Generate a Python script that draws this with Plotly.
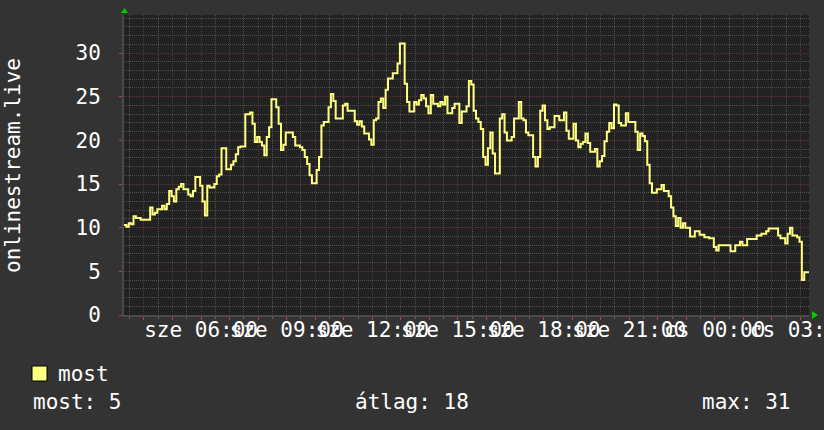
import pandas as pd
import plotly.graph_objects as go

# ---------------- data ----------------
start_time = "2024-01-03 03:18"          # szerda (Wednesday)
step_minutes = 5
values = [
    10.3, 10.1, 10.5, 10.4, 11.3, 11.1, 11.1, 10.9, 10.9, 10.9,
    10.9, 12.3, 11.5, 11.7, 12.1, 12.1, 12.5, 12.1, 12.7, 14.2,
    13.6, 13.0, 14.4, 14.7, 15.0, 14.4, 14.4, 13.8, 13.6, 14.2,
    15.8, 15.8, 14.8, 13.0, 11.4, 14.8, 14.6, 14.6, 15.0, 15.9,
    16.1, 19.1, 19.1, 16.7, 16.7, 17.2, 17.6, 18.4, 19.2, 19.3,
    19.3, 23.0, 23.0, 23.2, 21.9, 19.8, 20.4, 19.8, 19.4, 18.3,
    20.4, 21.5, 24.7, 24.7, 23.8, 21.9, 18.9, 19.5, 20.9, 20.9,
    20.9, 20.4, 19.4, 19.4, 19.2, 18.9, 18.1, 17.3, 16.0, 15.1,
    15.1, 16.6, 18.1, 21.7, 22.1, 22.1, 23.8, 25.3, 24.5, 22.5,
    22.5, 22.5, 24.0, 24.2, 23.4, 23.4, 23.4, 22.2, 21.8, 22.2,
    21.6, 20.8, 20.8, 20.1, 19.5, 22.3, 22.5, 24.4, 24.8, 23.7,
    25.8, 27.1, 27.1, 27.7, 27.7, 28.8, 31.1, 31.1, 26.5, 24.4,
    23.3, 23.3, 24.4, 24.1, 24.6, 25.2, 24.8, 23.9, 23.1, 25.2,
    24.2, 24.2, 23.9, 24.4, 24.1, 25.0, 23.1, 23.1, 23.7, 24.2,
    24.2, 22.0, 23.3, 23.3, 23.9, 26.8, 26.4, 23.4, 22.5, 22.1,
    21.3, 18.1, 17.2, 19.1, 20.9, 18.5, 16.2, 16.2, 22.5, 23.0,
    20.9, 20.0, 20.0, 20.4, 22.5, 22.5, 24.4, 22.5, 22.3, 20.9,
    20.6, 20.6, 18.1, 17.0, 18.1, 23.4, 24.0, 22.3, 21.3, 21.5,
    21.5, 22.8, 22.8, 22.3, 22.3, 23.2, 21.1, 20.2, 20.2, 21.9,
    20.0, 19.2, 19.6, 19.8, 20.8, 19.7, 18.7, 18.7, 19.0, 17.0,
    17.6, 18.2, 19.9, 21.0, 22.0, 21.4, 24.1, 24.0, 22.0, 21.7,
    21.7, 23.1, 22.1, 22.1, 22.1, 21.0, 18.9, 20.8, 20.5, 19.9,
    17.2, 15.1, 14.0, 14.0, 14.4, 14.4, 14.9, 14.2, 14.2, 13.6,
    12.3, 11.3, 10.2, 11.1, 10.0, 10.5, 10.0, 10.0, 9.0, 9.0,
    9.6, 9.6, 9.2, 9.2, 8.9, 8.9, 8.8, 8.8, 7.8, 7.4,
    8.0, 8.0, 8.0, 8.0, 8.0, 7.3, 7.3, 8.0, 8.0, 8.4,
    8.0, 8.0, 8.7, 8.7, 8.7, 8.7, 9.1, 9.1, 9.3, 9.3,
    9.6, 9.9, 9.9, 9.9, 9.9, 9.1, 8.8, 8.8, 8.2, 9.3,
    10.0, 9.1, 9.1, 8.9, 8.4, 4.0, 4.9, 4.9,
]
series_name = "most"
y_axis_title = "onlinestream.live"
y_tick_values = [0, 5, 10, 15, 20, 25, 30]
x_label_times = ["2024-01-03 06:00", "2024-01-03 09:00", "2024-01-03 12:00",
                 "2024-01-03 15:00", "2024-01-03 18:00", "2024-01-03 21:00",
                 "2024-01-04 00:00", "2024-01-04 03:00"]
x_label_texts = ["sze 06:00", "sze 09:00", "sze 12:00", "sze 15:00",
                 "sze 18:00", "sze 21:00", "cs 00:00", "cs 03:00"]
stat_labels = ["most", "átlag", "max"]
stat_values = [5, 18, 31]

# ---------------- style ----------------
FONT = "DejaVu Sans Mono"
FS = 21
BACK = "#333333"
CANVAS = "#222222"
LINE = "#ffff80"
MGRID = "#633232"
GRID = "#505050"
ARROW = "#00cc00"

times = pd.date_range(start=start_time, periods=len(values), freq=f"{step_minutes}min")
t_end = pd.Timestamp(start_time) + pd.Timedelta(hours=24)
x = list(times) + [t_end]
y = values + [values[-1]]

hours = pd.date_range(start="2024-01-03 04:00", end="2024-01-04 03:00", freq="1h")
label_map = {pd.Timestamp(t): s for t, s in zip(x_label_times, x_label_texts)}
tick_text = [label_map.get(h, "") for h in hours]

fig = go.Figure()
fig.add_trace(go.Scatter(x=x, y=y, mode="lines", line=dict(color=LINE, width=2, shape="hv"),
                         name=series_name, showlegend=False, hoverinfo="skip"))

L, R, T, B = 124, 15, 15, 115
W, H = 824, 430
pw, ph = W - L - R, H - T - B

fig.update_layout(
    width=W, height=H, template="none",
    margin=dict(l=L, r=R, t=T, b=B, pad=0),
    paper_bgcolor=BACK, plot_bgcolor=CANVAS,
    font=dict(family=FONT, size=FS, color="white"),
    showlegend=False,
)
fig.update_xaxes(
    range=[pd.Timestamp(start_time), t_end], automargin=False,
    tickmode="array", tickvals=list(hours), ticktext=tick_text, tickangle=0,
    ticklabeloverflow="allow", ticklabelstandoff=-8,
    showgrid=True, gridcolor=MGRID, griddash="1px,1px", gridwidth=1,
    ticks="outside", ticklen=3, tickcolor="#aa4444", tickwidth=1,
    minor=dict(tickmode="linear", tick0="2024-01-03 03:30", dtick=1800000,
               showgrid=True, gridcolor=GRID, griddash="1px,1px", gridwidth=1,
               ticks="outside", ticklen=2, tickcolor="#666666"),
    showline=True, linecolor="#4a4a4a", linewidth=2, zeroline=False,
    tickfont=dict(family=FONT, size=FS, color="white"),
)
fig.update_yaxes(
    range=[0, 34.36], automargin=False,
    tickmode="array", tickvals=y_tick_values, ticktext=[str(v) for v in y_tick_values],
    showgrid=True, gridcolor=MGRID, griddash="1px,1px", gridwidth=1,
    ticks="outside", ticklen=3, tickcolor="#aa4444",
    minor=dict(tickmode="linear", tick0=0, dtick=1, showgrid=True, gridcolor=GRID,
               griddash="1px,1px", gridwidth=1),
    showline=True, linecolor="#4a4a4a", linewidth=2, zeroline=False,
    ticklabelstandoff=14,
    tickfont=dict(family=FONT, size=FS, color="white"),
)

def px_x(p):
    return (p - L) / pw

def px_y(p):
    return (H - B - p) / ph

# y axis title
fig.add_annotation(text=y_axis_title, xref="paper", yref="paper", x=px_x(13), y=px_y(165),
                   textangle=-90, showarrow=False, xanchor="center", yanchor="middle",
                   font=dict(family=FONT, size=FS, color="white"))

# green axis arrows
fig.add_shape(type="path", xref="paper", yref="paper", line=dict(width=0), fillcolor=ARROW,
              path=f"M {px_x(121)} {px_y(13)} L {px_x(128)} {px_y(13)} L {px_x(124.5)} {px_y(8)} Z")
fig.add_shape(type="path", xref="paper", yref="paper", line=dict(width=0), fillcolor=ARROW,
              path=f"M {px_x(812)} {px_y(311)} L {px_x(812)} {px_y(319)} L {px_x(818)} {px_y(315)} Z")

# legend
fig.add_shape(type="rect", xref="paper", yref="paper", x0=px_x(32), x1=px_x(47),
              y0=px_y(381), y1=px_y(366), fillcolor=LINE, line=dict(color="black", width=1))
fig.add_annotation(text=series_name, xref="paper", yref="paper", x=px_x(56), y=px_y(374),
                   showarrow=False, xanchor="left", yanchor="middle")
stat_x = [31, 353, 700]
for lab, val, sx in zip(stat_labels, stat_values, stat_x):
    fig.add_annotation(text=f"{lab}: {val}", xref="paper", yref="paper", x=px_x(sx), y=px_y(402),
                       showarrow=False, xanchor="left", yanchor="middle")

fig.write_html("out.html", config={"responsive": False, "displayModeBar": False},
               post_script="document.body.style.margin='0';document.body.style.padding='0';"
                           "document.body.style.background='#333333';")
